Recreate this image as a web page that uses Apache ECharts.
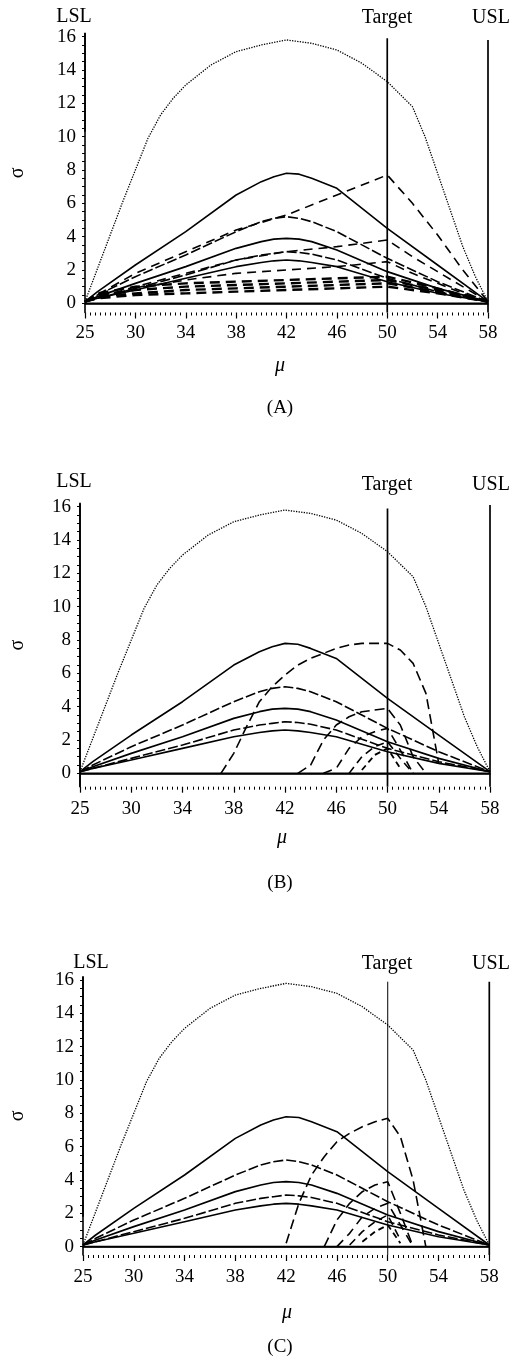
<!DOCTYPE html>
<html><head><meta charset="utf-8">
<script src="https://cdn.jsdelivr.net/npm/echarts@6/dist/echarts.min.js"></script>
<style>html,body{margin:0;padding:0;background:#fff}#c{width:512px;height:1362px}</style>
</head><body><div id="c"></div>
<script>
// x categories (mu), tick labels shown every 4th
const muCats = ['25','27','28','29','30','31','32','33','34','35','36','37','38','39','40','41','42','43','44','45','46','47','48','49','50','51','52','53','54','55','56','57','58'];
const yTickLabels = [0,2,4,6,8,10,12,14,16];

// shared curves
const archMu    = [25,27,28,29,30,31,32,33,34,36,38,40,42,44,46,48,50,52,53,54,55,56,57,58];
const archSigma = [0.1,2.1,4.1,6.1,8.0,9.9,11.3,12.3,13.1,14.3,15.1,15.5,15.8,15.6,15.2,14.4,13.3,11.8,10.0,7.8,5.6,3.4,1.6,0.1];
const tentMu  = [25,27,30,34,38,40,41,42,43,44,46,50,54,58];
const tent78  = [0.1,0.7,2.3,4.3,6.5,7.3,7.6,7.8,7.75,7.5,6.9,4.5,2.3,0.1];
const tent52  = [0.1,0.5,1.6,2.9,4.3,4.9,5.1,5.2,5.1,4.9,4.3,2.7,1.3,0.1];
const tent39  = [0.1,0.4,1.2,2.2,3.3,3.7,3.85,3.9,3.85,3.7,3.2,1.9,0.9,0.1];
const tent31  = [0.1,0.3,0.9,1.7,2.6,2.9,3.0,3.1,3.05,2.95,2.6,1.5,0.7,0.1];
const tent26  = [0.1,0.3,0.8,1.5,2.2,2.45,2.55,2.6,2.55,2.45,2.2,1.3,0.6,0.1];
const zeroMu = [25,58];
const zeroSigma = [0,0];

// panel A dashed curves
const aD1Mu = [25,30,34,38,42,46,50,52,54,56,58];
const aD1   = [0.1,1.8,3.1,4.4,5.3,6.5,7.7,6.0,4.1,2.0,0.1];
const aD2   = [0.1,1.0,1.8,2.6,3.1,3.4,3.8,2.8,1.9,1.0,0.1];
const aD3   = [0.1,0.9,1.4,1.8,2.0,2.2,2.5,1.8,1.2,0.6,0.1];
const aLowMu = [25,27,30,34,38,42,46,50,54,58];
const aD4 = [0.1,0.6,1.0,1.2,1.3,1.4,1.5,1.6,0.9,0.1];
const aD5 = [0.1,0.5,0.8,1.0,1.1,1.2,1.3,1.4,0.8,0.1];
const aD6 = [0.1,0.4,0.6,0.8,0.9,1.0,1.1,1.2,0.7,0.1];
const aD7 = [0.1,0.3,0.5,0.6,0.7,0.8,0.9,1.0,0.6,0.1];

// panel B dashed arches
const bE1Mu = [37,38,39,40,41,42,43,44,45,46,47,48,49,50,51,52,53,54];
const bE1   = [0,1.2,2.8,4.3,5.2,5.9,6.5,6.9,7.2,7.5,7.7,7.8,7.8,7.8,7.4,6.6,4.8,0.6];
const bE2Mu = [43,44,45,46,47,48,49,50,51,52,53];
const bE2   = [0,0.5,2.0,2.9,3.4,3.7,3.8,3.9,2.9,1.0,0];
const bE3Mu = [45,46,47,48,49,50,51,52];
const bE3   = [0,0.3,1.5,2.2,2.5,2.7,1.4,0];
const bE4Mu = [47,48,49,50,51,52];
const bE4   = [0,1.0,1.6,1.9,0.9,0];
const bE5Mu = [48,49,50,51];
const bE5   = [0.2,1.1,1.5,0.3];

// panel C dashed arches
const cF1Mu = [42,43,44,45,46,47,48,49,50,51,52,53];
const cF1   = [0.2,2.6,4.3,5.4,6.3,6.8,7.2,7.5,7.7,6.6,4.0,0];
const cF2Mu = [45,46,47,48,49,50,51,52];
const cF2   = [0,1.6,2.6,3.3,3.7,3.9,2.0,0];
const cF3Mu = [46,47,48,49,50,51,52];
const cF3   = [0,0.8,1.8,2.3,2.6,1.3,0];
const cF4Mu = [47,48,49,50,51];
const cF4   = [0.1,0.9,1.5,1.9,0.4];
const cF5Mu = [48,49,50,51];
const cF5   = [0.3,0.9,1.3,0.2];

// reference lines: [mu, from, to]
const refLines = [
  [[25,10.3,16.2],[50,-0.55,15.9],[58,-0.55,15.8]],
  [[25,-0.8,16.2],[50,-0.8,15.9],[58,-0.8,16.1]],
  [[25,1.8,16.2],[50,-0.5,15.9],[58,-0.5,15.9]]
];

const FONT = 'Liberation Serif';
const panels = [
  {left:70, top:33.3, width:418, height:279.2, ymin:-0.55, nameGap:57, lblMargin:11,
   texts:[['LSL',74,17],['Target',387,18],['USL',491,18]], mu:[280,366], tag:['(A)',280,408]},
  {left:66.7, top:503.4, width:423.3, height:283.3, ymin:-0.8, nameGap:52, lblMargin:13,
   texts:[['LSL',74,482],['Target',387,485],['USL',491,485]], mu:[282,838], tag:['(B)',280,883]},
  {left:80, top:976.7, width:409.3, height:278.3, ymin:-0.5, nameGap:55, lblMargin:13,
   texts:[['LSL',91,963],['Target',387,964],['USL',491,964]], mu:[287,1313], tag:['(C)',280,1347]}
];

const yMinor = [];
for (let v = 0; v <= 16; v += 0.5) yMinor.push(v);

const grid = [], xAxis = [], yAxis = [], series = [], graphic = [];
function add(g, mu, sig, type, width, dash) {
  series.push({
    type:'line', xAxisIndex:2*g, yAxisIndex:g, symbol:'none', smooth:false, silent:true,
    data: mu.map((m,i)=>[String(m), sig[i]]),
    lineStyle:{color:'#000', width:width, type: dash || type},
    z: 3
  });
}
panels.forEach((p,g)=>{
  grid.push({left:p.left, top:p.top, width:p.width, height:p.height});
  xAxis.push({type:'category', gridIndex:g, data:muCats, boundaryGap:false,
    axisLine:{lineStyle:{color:'#000', width:1.6}}, axisTick:{show:false},
    axisLabel:{interval:3, color:'#000', fontFamily:FONT, fontSize:19, margin:p.lblMargin},
    splitLine:{show:false}});
  xAxis.push({type:'value', gridIndex:g, min:0, max:32, interval:4, position:'bottom',
    axisLine:{show:false}, axisLabel:{show:false},
    axisTick:{show:true, length:6, lineStyle:{color:'#000', width:1.2}},
    minorTick:{show:true, splitNumber:10, length:3, lineStyle:{color:'#000'}},
    splitLine:{show:false}, minorSplitLine:{show:false}});
  yAxis.push({type:'value', gridIndex:g, min:p.ymin, max:16.2,
    axisLine:{show:true, lineStyle:{color:'#000', width:1.6}},
    axisTick:{show:true, customValues:yMinor, length:3, lineStyle:{color:'#000'}},
    axisLabel:{customValues:yTickLabels, color:'#000', fontFamily:FONT, fontSize:19, margin:9},
    splitLine:{show:false},
    name:'σ', nameLocation:'middle', nameRotate:90, nameGap:p.nameGap,
    nameTextStyle:{color:'#000', fontFamily:FONT, fontSize:20}});
  // curves common to all panels
  add(g, archMu, archSigma, 'dotted', 1.3);
  add(g, tentMu, tent78, 'solid', 1.6);
  add(g, tentMu, tent52, 'solid', 1.6, [10,3]);
  add(g, tentMu, tent39, 'solid', 1.7);
  add(g, tentMu, tent31, 'solid', 1.6, [10,3]);
  add(g, tentMu, tent26, 'solid', 1.6);
  add(g, zeroMu, zeroSigma, 'solid', 1.8);
  refLines[g].forEach(r=>{
    series.push({type:'line', xAxisIndex:2*g, yAxisIndex:g, symbol:'none', silent:true,
      data:[[String(r[0]), r[1]],[String(r[0]), r[2]]],
      lineStyle:{color:'#000', width: g===2 && r[0]===50 ? 1 : 1.7}, z:4});
  });
  p.texts.forEach(t=>graphic.push({type:'text', x:t[1], y:t[2],
    style:{text:t[0], fill:'#000', font:'20px "Liberation Serif"', align:'center', verticalAlign:'middle'}}));
  graphic.push({type:'text', x:p.mu[0], y:p.mu[1],
    style:{text:'μ', fill:'#000', font:'italic 20px "Liberation Serif"', align:'center', verticalAlign:'middle'}});
  graphic.push({type:'text', x:p.tag[1], y:p.tag[2],
    style:{text:p.tag[0], fill:'#000', font:'19px "Liberation Serif"', align:'center', verticalAlign:'middle'}});
});

// panel A
add(0, aD1Mu, aD1, 'dashed', 1.6, [9,6]);
add(0, aD1Mu, aD2, 'dashed', 1.6, [9,6]);
add(0, aD1Mu, aD3, 'dashed', 1.6, [9,6]);
add(0, aLowMu, aD4, 'dashed', 2.4, [10,6]);
add(0, aLowMu, aD5, 'dashed', 2.4, [10,6]);
add(0, aLowMu, aD6, 'dashed', 2.4, [10,6]);
add(0, aLowMu, aD7, 'dashed', 2.4, [10,6]);
// panel B
add(1, bE1Mu, bE1, 'dashed', 1.6, [10,5]);
add(1, bE2Mu, bE2, 'dashed', 1.6, [10,5]);
add(1, bE3Mu, bE3, 'dashed', 1.6, [9,6]);
add(1, bE4Mu, bE4, 'dashed', 1.6, [8,5]);
add(1, bE5Mu, bE5, 'dashed', 1.8, [6,4]);
// panel C
add(2, cF1Mu, cF1, 'dashed', 1.6, [10,5]);
add(2, cF2Mu, cF2, 'dashed', 1.6, [10,5]);
add(2, cF3Mu, cF3, 'dashed', 1.6, [9,6]);
add(2, cF4Mu, cF4, 'dashed', 1.6, [8,5]);
add(2, cF5Mu, cF5, 'dashed', 1.8, [6,4]);

const chart = echarts.init(document.getElementById('c'), null, {renderer:'canvas'});
chart.setOption({animation:false, backgroundColor:'#fff', grid, xAxis, yAxis, series, graphic});
</script></body></html>
